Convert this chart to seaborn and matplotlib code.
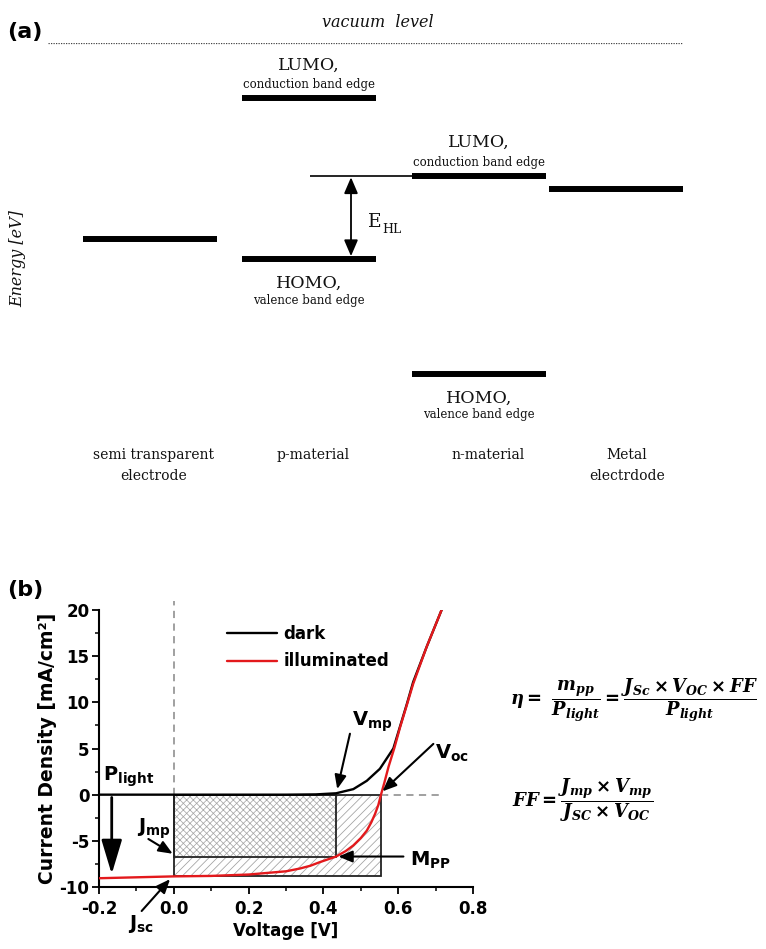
"""
Organic solar cell figure: (a) energy level diagram, (b) J-V curves dark / illuminated.
"""
import numpy as np
import pandas as pd
import matplotlib
matplotlib.use("Agg")
import matplotlib.pyplot as plt
import seaborn as sns
from matplotlib.patches import Rectangle
from matplotlib.ticker import MultipleLocator, FormatStrFormatter

# ---- panel (a) data: levels in eV below vacuum (schematic) ----
material_names = ["semi transparent\nelectrode", "p-material", "n-material", "Metal\nelectrdode"]
electrode_level = 3.86
p_lumo, p_homo = 1.08, 4.25
n_lumo, n_homo = 2.61, 6.50
metal_level = 2.87

# ---- panel (b) data: current density [mA/cm2] vs voltage [V] ----
v_dark = [-0.2, 0.0, 0.2, 0.3, 0.38, 0.434, 0.48, 0.516, 0.551, 0.587, 0.605, 0.623, 0.640, 0.676, 0.716]
j_dark = [0.0, 0.0, 0.0, 0.0, 0.03, 0.15, 0.6, 1.5, 2.8, 5.0, 7.4, 9.8, 12.2, 16.0, 20.0]
v_light = [-0.2, -0.1, 0.0, 0.1, 0.2, 0.3, 0.337, 0.365, 0.391, 0.434, 0.46, 0.48, 0.50, 0.516,
           0.528, 0.538, 0.547, 0.554, 0.563, 0.574, 0.590, 0.605, 0.623, 0.640, 0.676, 0.716]
j_light = [-9.05, -8.95, -8.85, -8.8, -8.65, -8.3, -8.0, -7.7, -7.3, -6.7, -6.1, -5.5, -4.7, -3.9,
           -3.0, -2.1, -1.1, 0.0, 1.3, 3.0, 5.1, 7.3, 9.7, 12.0, 16.0, 20.0]
v_mp, j_mp = 0.434, -6.7
v_oc, j_sc = 0.554, -8.85

sns.set_style("ticks")
plt.rcParams["font.family"] = ["DejaVu Sans"]
plt.rcParams["font.weight"] = "bold"
plt.rcParams["axes.labelweight"] = "bold"
plt.rcParams["axes.unicode_minus"] = False
for key in ["text.color", "axes.labelcolor", "xtick.color", "ytick.color", "axes.edgecolor"]:
    plt.rcParams[key] = "black"
plt.rcParams["mathtext.fontset"] = "custom"
plt.rcParams["mathtext.rm"] = "DejaVu Sans"
plt.rcParams["mathtext.it"] = "DejaVu Sans:italic"
plt.rcParams["mathtext.bf"] = "DejaVu Sans:bold"
plt.rcParams["mathtext.bfit"] = "DejaVu Serif:italic:bold"
plt.rcParams["hatch.linewidth"] = 0.55

W, H = 766, 949
fig = plt.figure(figsize=(W / 100, H / 100), dpi=100)


def px_box(left, top, right, bottom):
    return [left / W, 1 - bottom / H, (right - left) / W, (bottom - top) / H]


# ================= (a) energy diagram =================
ax_a = fig.add_axes(px_box(46, 43, 690, 450))
ax_a.set_xlim(46, 690)
ax_a.set_ylim(8, 0)
ax_a.axis("off")

serif = dict(family="DejaVu Serif", fontweight="normal", color="#111111")
centers = [150, 309, 479, 616]
half = 67

bars = [(0, electrode_level), (1, p_lumo), (1, p_homo), (2, n_lumo), (2, n_homo), (3, metal_level)]
for col, lvl in bars:
    ax_a.hlines(lvl, centers[col] - half, centers[col] + half, color="black", lw=4.3)
# thin extension of n LUMO level
ax_a.hlines(n_lumo, 310, centers[2] - half, color="black", lw=1.2)

for col, lvl in [(1, p_lumo), (2, n_lumo)]:
    ax_a.text(centers[col], lvl - 0.56, "LUMO,", ha="center", va="baseline", fontsize=12.5, **serif)
    ax_a.text(centers[col], lvl - 0.19, "conduction band edge", ha="center", va="baseline",
              fontsize=8.5, **serif)
for col, lvl in [(1, p_homo), (2, n_homo)]:
    ax_a.text(centers[col], lvl + 0.57, "HOMO,", ha="center", va="baseline", fontsize=12.5, **serif)
    ax_a.text(centers[col], lvl + 0.88, "valence band edge", ha="center", va="baseline",
              fontsize=8.5, **serif)

# E_HL double arrow
ax_a.annotate("", xy=(351, p_homo - 0.06), xytext=(351, n_lumo + 0.03),
              arrowprops=dict(arrowstyle="<|-|>,head_length=0.7,head_width=0.3", lw=1.3,
                              color="black", shrinkA=0, shrinkB=0, mutation_scale=14))
ax_a.text(368, 3.62, "E", ha="left", va="baseline", fontsize=13.5, **serif)
ax_a.text(382, 3.74, "HL", ha="left", va="baseline", fontsize=9, **serif)

# vacuum level and energy axis
ax_a.hlines(0, 48, 683, color="#444444", lw=0.9, linestyles=(0, (1, 1)))
ax_a.annotate("", xy=(47, 8.05), xytext=(47, 0),
              arrowprops=dict(arrowstyle="-|>,head_length=0.7,head_width=0.3", lw=1.3,
                              color="black", shrinkA=0, shrinkB=0, mutation_scale=14))
ax_a.text(378, -0.31, "vacuum  level", ha="center", va="baseline", fontsize=11.5,
          style="italic", **serif)
ax_a.text(18, 4.23, "Energy [eV]", ha="center", va="center", rotation=90, fontsize=11.5,
          style="italic", **serif)

label_x = [154, 313, 488, 627]
for x, name in zip(label_x, material_names):
    ax_a.text(x, 7.97, name, ha="center", va="top", fontsize=10, linespacing=1.6, **serif)

fig.text(7 / W, 1 - 32 / H, "(a)", fontsize=16, fontweight="bold", va="center", ha="left")

# ================= (b) J-V curves =================
ax_b = fig.add_axes(px_box(99, 610, 473, 887))

df = pd.concat([
    pd.DataFrame({"Voltage": v_dark, "J": j_dark, "curve": "dark"}),
    pd.DataFrame({"Voltage": v_light, "J": j_light, "curve": "illuminated"}),
], ignore_index=True)

# shaded power rectangles
ax_b.add_patch(Rectangle((0, j_sc), v_oc, -j_sc, facecolor="white", edgecolor="#a0a0a0",
                         hatch="////", lw=0, zorder=1))
ax_b.add_patch(Rectangle((0, j_mp), v_mp, -j_mp, facecolor="white", edgecolor="#a8a8a8",
                         hatch="xxxxx", lw=0, zorder=1.1))
ax_b.add_patch(Rectangle((0, j_sc), v_oc, -j_sc, fill=False, edgecolor="#222222", lw=1.3, zorder=1.5))
ax_b.add_patch(Rectangle((0, j_mp), v_mp, -j_mp, fill=False, edgecolor="#222222", lw=1.3, zorder=1.5))

# dashed guides
ax_b.plot([0, 0], [0, 21], color="#999999", lw=1.3, ls=(0, (4, 3)), zorder=1, clip_on=False)
ax_b.plot([v_oc, 0.716], [0, 0], color="#999999", lw=1.3, ls=(0, (4, 3)), zorder=1)

sns.lineplot(data=df, x="Voltage", y="J", hue="curve",
             palette={"dark": "black", "illuminated": "#e3191c"},
             estimator=None, sort=False, lw=1.7, ax=ax_b, legend=False, zorder=3)

handles = ax_b.get_lines()[-2:]
leg = ax_b.legend(handles, ["dark", "illuminated"], loc="upper left",
                  bbox_to_anchor=(0.342, 0.945), frameon=False, fontsize=12,
                  handlelength=3.0, handletextpad=0.4, labelspacing=0.55,
                  borderpad=0, borderaxespad=0)

ax_b.set_xlim(-0.2, 0.8)
ax_b.set_ylim(-10, 20)
ax_b.xaxis.set_major_locator(MultipleLocator(0.2))
ax_b.xaxis.set_minor_locator(MultipleLocator(0.1))
ax_b.xaxis.set_major_formatter(FormatStrFormatter("%.1f"))
ax_b.yaxis.set_major_locator(MultipleLocator(5))
ax_b.yaxis.set_minor_locator(MultipleLocator(2.5))
ax_b.tick_params(which="major", length=5, width=1.3, direction="out", labelsize=12)
ax_b.tick_params(axis="x", which="major", pad=4)
ax_b.tick_params(axis="y", which="major", pad=2)
ax_b.tick_params(which="minor", length=3, width=1.1, direction="out")
sns.despine(ax=ax_b)
for side in ["left", "bottom"]:
    ax_b.spines[side].set_linewidth(1.5)
ax_b.set_xlabel("Voltage [V]", fontsize=12, labelpad=3)
ax_b.set_ylabel("Current Density [mA/cm²]", fontsize=13.5, labelpad=2)

# annotations
small_arrow = dict(arrowstyle="-|>,head_length=0.6,head_width=0.25", lw=1.5, color="black",
                   shrinkA=0, shrinkB=0, mutation_scale=14)
ax_b.annotate("", xy=(0.437, 0.6), xytext=(0.471, 6.6), arrowprops=small_arrow)
ax_b.annotate("", xy=(0.558, 0.36), xytext=(0.694, 5.5), arrowprops=small_arrow)
ax_b.annotate("", xy=(0.44, -6.7), xytext=(0.614, -6.7), arrowprops=small_arrow)
ax_b.annotate("", xy=(-0.003, -6.4), xytext=(-0.068, -4.8), arrowprops=small_arrow)
ax_b.annotate("", xy=(-0.01, -9.15), xytext=(-0.086, -12.6), arrowprops=small_arrow,
              annotation_clip=False)
ax_b.annotate("", xy=(-0.166, -8.6), xytext=(-0.166, -0.3),
              arrowprops=dict(arrowstyle="-|>,head_length=1.5,head_width=0.45", lw=2,
                              color="black", shrinkA=0, shrinkB=0, mutation_scale=14))

sub_labels = [
    (0.476, 7.5, r"$\mathbf{V}_{\mathbf{mp}}$"),
    (0.698, 3.9, r"$\mathbf{V}_{\mathbf{oc}}$"),
    (0.632, -7.7, r"$\mathbf{M}_{\mathbf{PP}}$"),
    (-0.098, -4.1, r"$\mathbf{J}_{\mathbf{mp}}$"),
    (-0.122, -14.5, r"$\mathbf{J}_{\mathbf{sc}}$"),
    (-0.189, 1.5, r"$\mathbf{P}_{\mathbf{light}}$"),
]
for x, y, s in sub_labels:
    ax_b.text(x, y, s, fontsize=14, ha="left", va="baseline", clip_on=False)

fig.text(7 / W, 1 - 590 / H, "(b)", fontsize=16, fontweight="bold", va="center", ha="left")

# equations
eta_eq = (r"$\mathbfit{\eta}=\ \dfrac{\mathbfit{m}_{\mathbfit{pp}}}{\mathbfit{P}_{\mathbfit{light}}}"
          r"=\dfrac{\mathbfit{J}_{\mathbfit{Sc}}\times\mathbfit{V}_{\mathbfit{OC}}\times\mathbfit{FF}}"
          r"{\mathbfit{P}_{\mathbfit{light}}}$")
ff_eq = (r"$\mathbfit{FF}=\dfrac{\mathbfit{J}_{\mathbfit{mp}}\times\mathbfit{V}_{\mathbfit{mp}}}"
         r"{\mathbfit{J}_{\mathbfit{SC}}\times\mathbfit{V}_{\mathbfit{OC}}}$")
fig.text(510 / W, 1 - 700 / H, eta_eq, fontsize=12.9, va="center", ha="left")
fig.text(512 / W, 1 - 800 / H, ff_eq, fontsize=13, va="center", ha="left")

fig.savefig("out.png", dpi=100)
